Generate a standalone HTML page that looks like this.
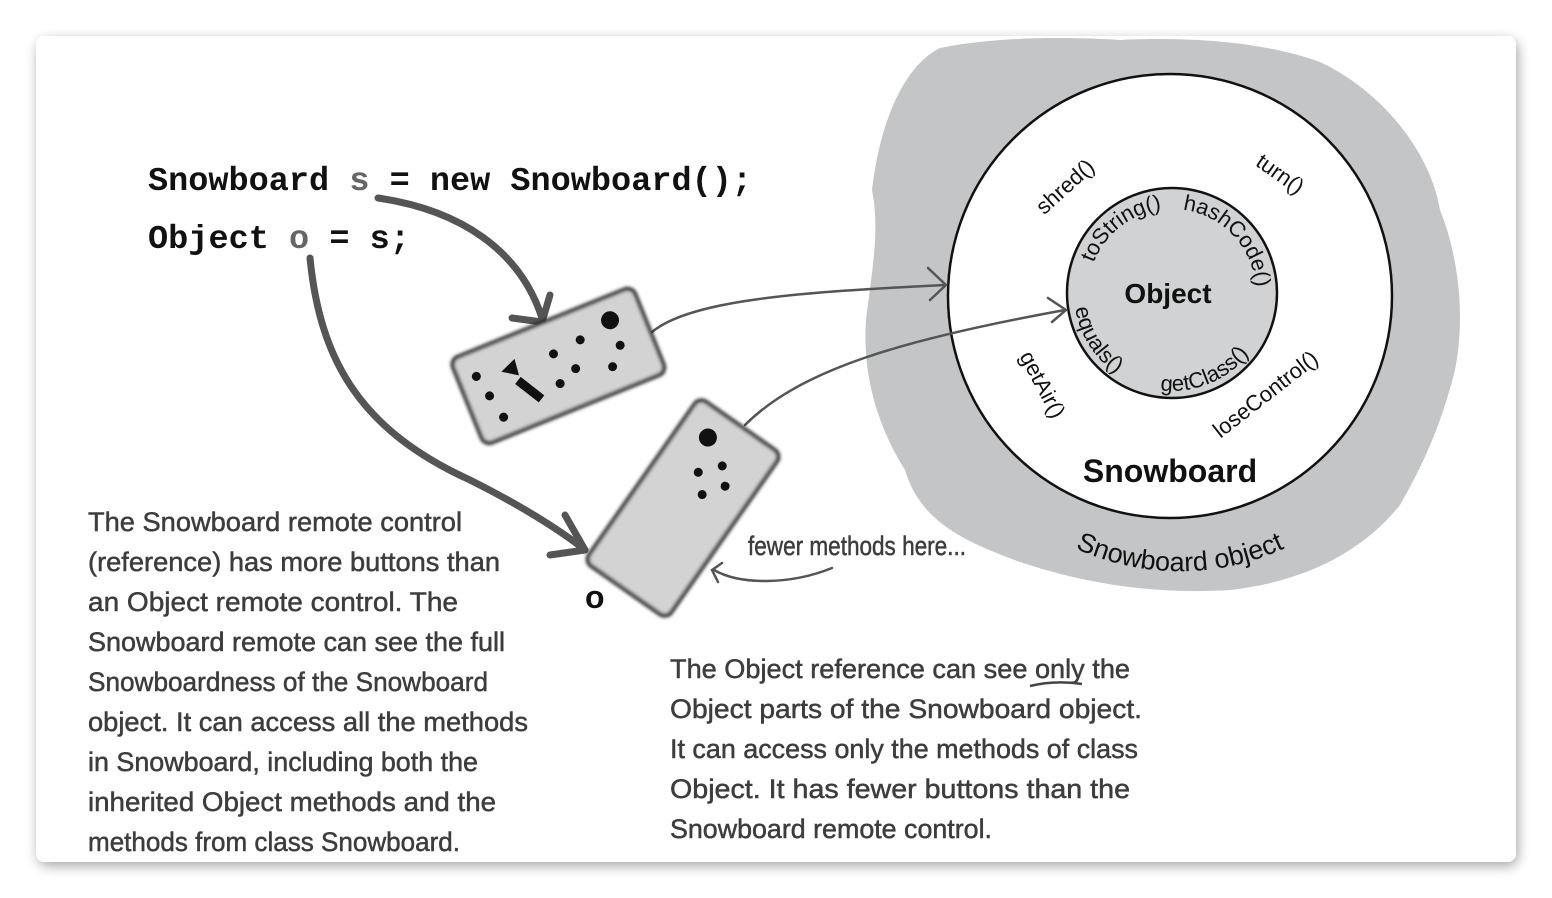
<!DOCTYPE html>
<html><head><meta charset="utf-8"><style>
html,body{margin:0;padding:0;background:#fff;}
svg{display:block}
.h{font-family:"Liberation Sans Narrow","Liberation Sans",sans-serif;fill:#3d3d3d;stroke:#3d3d3d;stroke-width:0.5;font-size:27px;}
.c{font-family:"Liberation Mono",monospace;font-weight:bold;font-size:33px;fill:#111;}
.m{font-family:"Liberation Sans",sans-serif;font-size:22px;fill:#111;}
</style></head><body>
<svg width="1552" height="898" viewBox="0 0 1552 898" xmlns="http://www.w3.org/2000/svg">
<defs>
<filter id="sh" x="-5%" y="-5%" width="110%" height="110%"><feGaussianBlur stdDeviation="6"/></filter>
<filter id="bl"><feGaussianBlur stdDeviation="1.5"/></filter>
<path id="arcB" d="M 960 440 A 250 250 0 0 0 1400 440"/>
<path id="topArc" d="M 1088 293 A 84 84 0 1 1 1256 293"/>
<path id="botArc" d="M 1074 293 A 98 98 0 0 0 1270 293"/>
</defs>
<rect x="38" y="40" width="1480" height="826" rx="10" fill="#000" opacity="0.35" filter="url(#sh)"/>
<rect x="36" y="36" width="1480" height="826" rx="8" fill="#fff"/>
<!-- gray blob -->
<path d="M 940 48 C 1000 36 1070 37 1120 40 C 1180 37 1260 40 1320 62 C 1380 90 1430 150 1440 210 C 1460 260 1465 320 1455 370 C 1440 430 1420 470 1400 505 C 1360 555 1300 582 1230 590 C 1150 595 1080 582 1020 562 C 960 540 920 520 905 470 C 880 430 862 380 866 320 C 872 270 880 230 872 190 C 880 120 905 65 940 48 Z" fill="#c4c5c6"/>
<circle cx="1170" cy="296" r="222" fill="#fff" stroke="#111" stroke-width="2.5"/>
<circle cx="1172" cy="293" r="105" fill="#d1d2d3" stroke="#111" stroke-width="2.5"/>
<text x="1168" y="303" text-anchor="middle" font-family="Liberation Sans,sans-serif" font-weight="900" font-size="28" fill="#111">Object</text>
<text x="1170" y="482" text-anchor="middle" font-family="Liberation Sans,sans-serif" font-weight="900" font-size="32" fill="#111">Snowboard</text>
<text class="m"><textPath href="#topArc" startOffset="76" text-anchor="middle">toString()</textPath></text>
<text class="m"><textPath href="#topArc" startOffset="200" text-anchor="middle">hashCode()</textPath></text>
<text class="m"><textPath href="#botArc" startOffset="55" text-anchor="middle">equals()</textPath></text>
<text class="m"><textPath href="#botArc" startOffset="192" text-anchor="middle">getClass()</textPath></text>
<text class="m" transform="translate(1070,192) rotate(-42)" text-anchor="middle">shred()</text>
<text class="m" transform="translate(1276,180) rotate(35)" text-anchor="middle">turn()</text>
<text class="m" transform="translate(1036,388) rotate(62)" text-anchor="middle">getAir()</text>
<text class="m" transform="translate(1270,400) rotate(-38)" text-anchor="middle">loseControl()</text>
<text font-family="Liberation Sans,sans-serif" font-size="27" fill="#111"><textPath href="#arcB" startOffset="50%" text-anchor="middle">Snowboard object</textPath></text>
<!-- code -->
<text class="c" x="148" y="190" textLength="604" lengthAdjust="spacingAndGlyphs">Snowboard <tspan fill="#666">s</tspan> = new Snowboard();</text>
<text class="c" x="148" y="248" textLength="262" lengthAdjust="spacingAndGlyphs">Object <tspan fill="#666">o</tspan> = s;</text>
<!-- thick arrows -->
<g stroke="#555" stroke-width="7" fill="none" stroke-linecap="round" stroke-linejoin="round">
<path d="M 378 198 C 460 210 520 250 542 318"/>
<path d="M 512 318 L 542 322 L 550 295"/>
<path d="M 310 258 C 320 360 360 430 470 480 C 520 505 560 530 585 550"/>
<path d="M 565 515 L 585 550 L 550 555"/>
</g>
<!-- thin connectors -->
<g stroke="#555" stroke-width="2.5" fill="none" stroke-linecap="round">
<path d="M 652 332 C 690 300 800 292 945 285"/>
<path d="M 928 268 L 946 285 L 930 300"/>
<path d="M 745 425 C 800 370 900 340 1065 310"/>
<path d="M 1048 298 L 1066 310 L 1052 322"/>
<path d="M 832 568 C 790 585 740 585 714 570"/>
<path d="M 722 563 L 712 570 L 718 582"/>
</g>
<!-- remote 1 -->
<g transform="translate(558,365) rotate(-22)">
<rect x="-98" y="-45" width="196" height="92" rx="8" fill="#d3d3d3" stroke="#1a1a1a" stroke-width="4" filter="url(#bl)"/>
<g fill="#111">
<circle cx="65" cy="-22" r="9"/>
<circle cx="30" cy="-15" r="4.5"/><circle cx="65" cy="5" r="4.5"/><circle cx="50" cy="22" r="4.5"/><circle cx="15" cy="10" r="4.5"/>
<circle cx="0" cy="-12" r="4.5"/><circle cx="-5" cy="18" r="4.5"/><circle cx="-75" cy="3" r="4.5"/><circle cx="-70" cy="28" r="4.5"/><circle cx="-80" cy="-20" r="4.5"/>
<path d="M -55 -15 L -38 -22 L -40 -5 Z"/>
<rect x="-50" y="8" width="30" height="9" transform="rotate(60 -35 12)"/>
</g></g>
<!-- remote 2 -->
<g transform="translate(683,508) rotate(-55)">
<rect x="-100" y="-50" width="200" height="100" rx="8" fill="#d3d3d3" stroke="#1a1a1a" stroke-width="4" filter="url(#bl)"/>
<g fill="#111">
<circle cx="72" cy="-20" r="9"/>
<circle cx="57" cy="8" r="4.5"/><circle cx="38" cy="-8" r="4.5"/><circle cx="42" cy="22" r="4.5"/><circle cx="22" cy="8" r="4.5"/>
</g></g>
<text x="585" y="608" font-family="Liberation Sans,sans-serif" font-weight="900" font-size="32" fill="#111">o</text>
<text class="h" x="748" y="555" font-size="21" textLength="218" lengthAdjust="spacingAndGlyphs">fewer methods here...</text>
<!-- left text -->
<g class="h">
<text x="88" y="531" textLength="374" lengthAdjust="spacingAndGlyphs">The Snowboard remote control</text>
<text x="88" y="571" textLength="412" lengthAdjust="spacingAndGlyphs">(reference) has more buttons than</text>
<text x="88" y="611" textLength="370" lengthAdjust="spacingAndGlyphs">an Object remote control. The</text>
<text x="88" y="651" textLength="417" lengthAdjust="spacingAndGlyphs">Snowboard remote can see the full</text>
<text x="88" y="691" textLength="400" lengthAdjust="spacingAndGlyphs">Snowboardness of the Snowboard</text>
<text x="88" y="731" textLength="440" lengthAdjust="spacingAndGlyphs">object. It can access all the methods</text>
<text x="88" y="771" textLength="390" lengthAdjust="spacingAndGlyphs">in Snowboard, including both the</text>
<text x="88" y="811" textLength="408" lengthAdjust="spacingAndGlyphs">inherited Object methods and the</text>
<text x="88" y="851" textLength="372" lengthAdjust="spacingAndGlyphs">methods from class Snowboard.</text>
</g>
<g class="h">
<text x="670" y="678" textLength="460" lengthAdjust="spacingAndGlyphs">The Object reference can see only the</text>
<text x="670" y="718" textLength="472" lengthAdjust="spacingAndGlyphs">Object parts of the Snowboard object.</text>
<text x="670" y="758" textLength="468" lengthAdjust="spacingAndGlyphs">It can access only the methods of class</text>
<text x="670" y="798" textLength="460" lengthAdjust="spacingAndGlyphs">Object. It has fewer buttons than the</text>
<text x="670" y="838" textLength="322" lengthAdjust="spacingAndGlyphs">Snowboard remote control.</text>
</g>
<path d="M 1030 686 Q 1055 680 1082 684" stroke="#444" stroke-width="2.5" fill="none"/>
</svg>
</body></html>
